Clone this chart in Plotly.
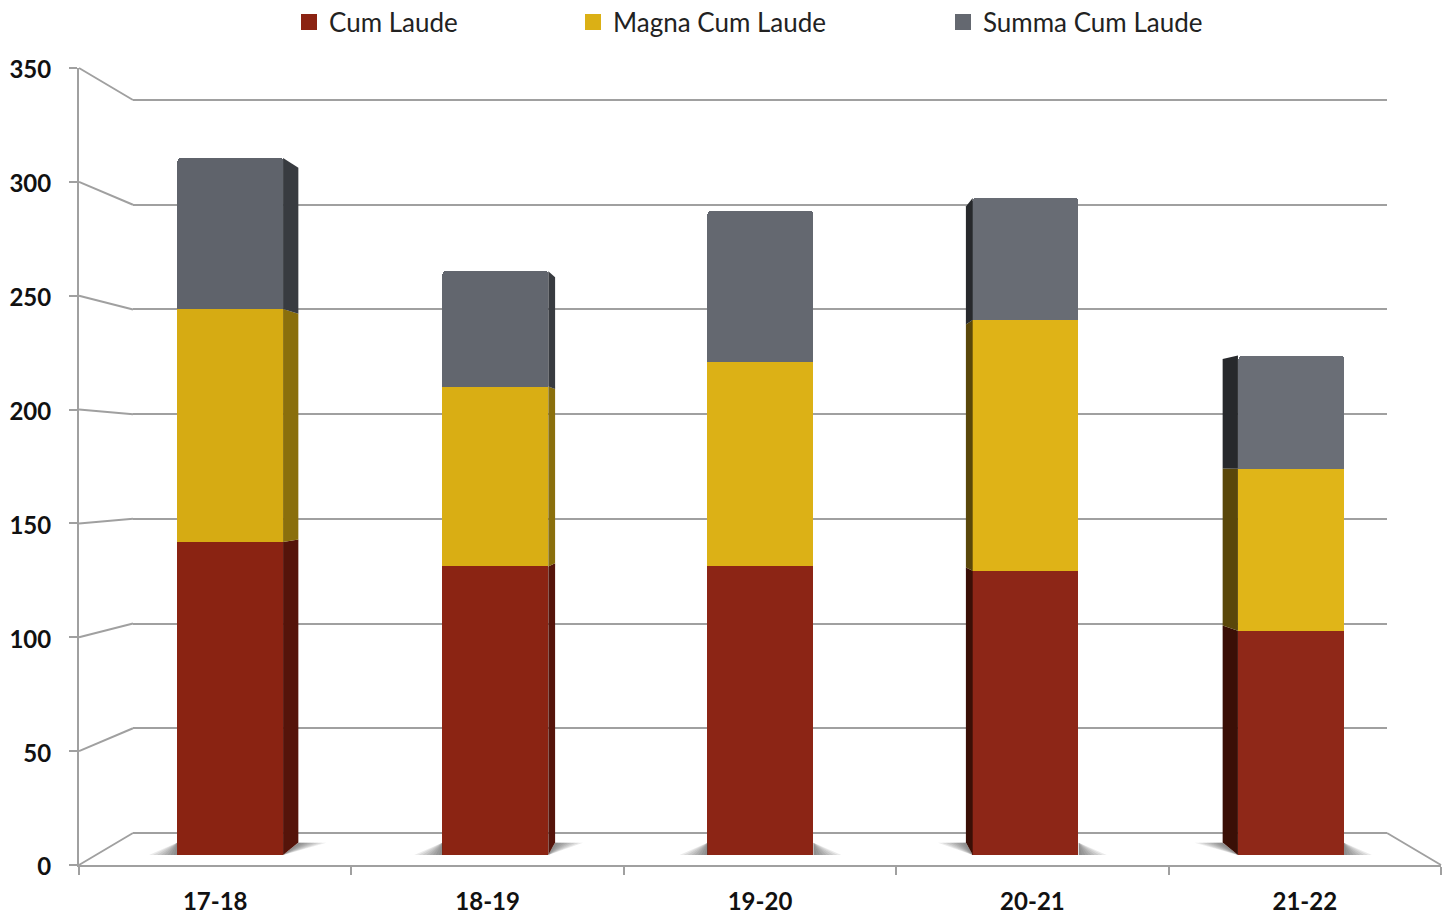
import plotly.graph_objects as go

# ---- data ----
categories = ["17-18", "18-19", "19-20", "20-21", "21-22"]
cum_laude = [141, 130, 130, 128, 101]
magna_cum_laude = [105, 81, 92, 113, 73]
summa_cum_laude = [68, 52, 68, 55, 51]
y_ticks = [0, 50, 100, 150, 200, 250, 300, 350]

# ---- styling / geometry ----
W, H = 1448, 915
GRID = "#a0a0a0"
FACE = [
    ["#8a2312", "#8b2413", "#8c2515", "#8d2617", "#8f2818"],
    ["#d6ab13", "#d9ae14", "#dcb116", "#dfb317", "#e0b518"],
    ["#5f636b", "#62666e", "#646870", "#686c74", "#6a6e76"],
]
KEY = ["#8b2312", "#dbb015", "#646870"]
SIDE_R = ["#55140a", "#8a6f0c", "#383b40"]
SIDE_L = ["#3a0f06", "#5a470a", "#27292c"]
NAMES = ["Cum Laude", "Magna Cum Laude", "Summa Cum Laude"]
FONT = "Lato"
BAR_W = 0.4
DEPTH = 0.968
VANISH_X, VANISH_V = 2, 175.7
FLOOR_BACK = 5.5
WALL_HEADROOM = 1.0
SHADOW_STEPS = (0.105, 0.09, 0.075, 0.06, 0.048, 0.036, 0.024, 0.012)


def xd(a, b):
    return [a / W, b / W]


def yd(top, bottom):
    return [1 - bottom / H, 1 - top / H]


def back(x, v):
    return VANISH_X + (x - VANISH_X) * DEPTH, VANISH_V + (v - VANISH_V) * DEPTH


series = [cum_laude, magna_cum_laude, summa_cum_laude]
fig = go.Figure()

# invisible anchors so the wall and frame axes are drawn
fig.add_trace(go.Scatter(x=[0, 1], y=[0, 350], xaxis="x", yaxis="y", mode="markers",
                         marker=dict(opacity=0), showlegend=False, hoverinfo="skip"))
fig.add_trace(go.Scatter(x=categories, y=cum_laude, xaxis="x2", yaxis="y2", mode="markers",
                         marker=dict(opacity=0), showlegend=False, hoverinfo="skip"))

# soft floor shadows: wedges on both sides of each bar, widest layer first
for i in range(len(categories)):
    L, R = i - BAR_W / 2, i + BAR_W / 2
    Lb, Rb = back(L, 0)[0], back(R, 0)[0]
    for s in SHADOW_STEPS:
        if i < 2:
            wedges = [([L - s, L, L], [0, 0, FLOOR_BACK]),
                      ([R, Rb + s, Rb], [0, FLOOR_BACK, FLOOR_BACK])]
        elif i > 2:
            wedges = [([L, Lb - s, Lb], [0, FLOOR_BACK, FLOOR_BACK]),
                      ([R + s, R, R], [0, 0, FLOOR_BACK])]
        else:
            wedges = [([L - s, L, L], [0, 0, FLOOR_BACK]),
                      ([R + s, R, R], [0, 0, FLOOR_BACK])]
        for wx, wy in wedges:
            fig.add_trace(go.Scatter(
                x=wx + wx[:1], y=wy + wy[:1],
                xaxis="x3", yaxis="y3", mode="lines", line=dict(width=0), fill="toself",
                fillcolor="rgba(70,70,70,0.11)", showlegend=False, hoverinfo="skip"))

# side faces, projected toward the vanishing point
for i in range(len(categories)):
    if i == VANISH_X:
        continue
    edge = i + BAR_W / 2 if i < VANISH_X else i - BAR_W / 2
    colors = SIDE_R if i < 3 else SIDE_L
    lo = 0
    for k, s in enumerate(series):
        hi = lo + s[i]
        xb0, vb0 = back(edge, lo)
        xb1, vb1 = back(edge, hi)
        fig.add_trace(go.Scatter(
            x=[edge, xb0, xb1, edge, edge], y=[lo, vb0, vb1, hi, lo],
            xaxis="x3", yaxis="y3", mode="lines", line=dict(width=0), fill="toself",
            fillcolor=colors[k], showlegend=False, hoverinfo="skip"))
        lo = hi

# the stacked bars
for k, s in enumerate(series):
    fig.add_trace(go.Bar(
        x=list(range(len(categories))), y=s, name=NAMES[k], width=BAR_W,
        xaxis="x3", yaxis="y3", marker=dict(color=FACE[k], line=dict(width=0)),
        showlegend=False,
        customdata=categories, hovertemplate="%{customdata}: %{y}<extra>" + NAMES[k] + "</extra>"))

# legend entries with square keys
for k, name in enumerate(NAMES):
    fig.add_trace(go.Scatter(
        x=[None], y=[None], name=name, mode="markers", xaxis="x3", yaxis="y3",
        marker=dict(symbol="square", size=16, color=KEY[k]),
        legend="legend" if k == 0 else f"legend{k + 1}", hoverinfo="skip"))

# perspective lines from the front axis to the back wall
F_TOP, F_BOT, B_TOP, B_BOT = 68, 865, 100, 833
F_L, F_R, B_L, B_R = 79, 1441, 133, 1387
shapes = []
for t in y_ticks:
    yf = F_BOT - (F_BOT - F_TOP) * t / 350
    yb = B_BOT - (B_BOT - B_TOP) * t / 350
    shapes.append(dict(type="line", xref="paper", yref="paper", layer="below",
                       x0=F_L / W, x1=B_L / W, y0=1 - yf / H, y1=1 - yb / H,
                       line=dict(color=GRID, width=2)))
shapes.append(dict(type="line", xref="paper", yref="paper", layer="below",
                   x0=F_R / W, x1=B_R / W, y0=1 - F_BOT / H, y1=1 - B_BOT / H,
                   line=dict(color=GRID, width=2)))

legend_common = dict(orientation="h", xanchor="left", yanchor="middle", y=1 - 22 / H,
                     bgcolor="rgba(0,0,0,0)", borderwidth=0,
                     font=dict(family=FONT, size=26, color="#222222"))

wall_top = B_TOP - WALL_HEADROOM * (B_BOT - B_TOP) / 350

fig.update_layout(
    width=W, height=H, margin=dict(l=0, r=0, t=0, b=0, autoexpand=False), autosize=False,
    paper_bgcolor="white", plot_bgcolor="rgba(0,0,0,0)",
    barmode="stack", barcornerradius=4, bargap=0,
    shapes=shapes,
    # back wall
    xaxis=dict(domain=xd(B_L, B_R), range=[0, 1], visible=False, anchor="y"),
    yaxis=dict(domain=yd(wall_top, B_BOT), range=[0, 350 + WALL_HEADROOM], anchor="x",
               tickvals=y_ticks, showticklabels=False, ticks="", showline=False, showgrid=True,
               gridcolor=GRID, gridwidth=2, zeroline=True, zerolinecolor=GRID, zerolinewidth=2),
    # front frame
    xaxis2=dict(domain=xd(F_L, F_R), type="category", categoryorder="array",
                categoryarray=categories, range=[-0.5, 4.5], anchor="y2",
                tickson="boundaries", ticks="outside", ticklen=8, tickwidth=2, tickcolor=GRID,
                ticklabelstandoff=14,
                showline=True, linecolor=GRID, linewidth=2, showgrid=False, zeroline=False,
                tickfont=dict(family=FONT, size=24, color="#111111", weight=700)),
    yaxis2=dict(domain=yd(F_TOP, F_BOT), range=[0, 350], anchor="x2", tickvals=y_ticks,
                ticks="outside", ticklen=8, tickwidth=2, tickcolor=GRID,
                ticklabelstandoff=13, ticklabelshift=2,
                showline=True, linecolor=GRID, linewidth=2, showgrid=False, zeroline=False,
                tickfont=dict(family=FONT, size=24, color="#111111", weight=700)),
    # plane of the bars
    xaxis3=dict(domain=xd(97.4, 1423.6), range=[-0.5, 4.5], visible=False, anchor="y3"),
    yaxis3=dict(domain=yd(78, 855), range=[0, 350], visible=False, anchor="x3"),
    legend=dict(x=289 / W, **legend_common),
    legend2=dict(x=573 / W, **legend_common),
    legend3=dict(x=943 / W, **legend_common),
)

fig.write_html("out.html", config=dict(responsive=False, displayModeBar=False),
               post_script="document.body.style.margin='0';")
